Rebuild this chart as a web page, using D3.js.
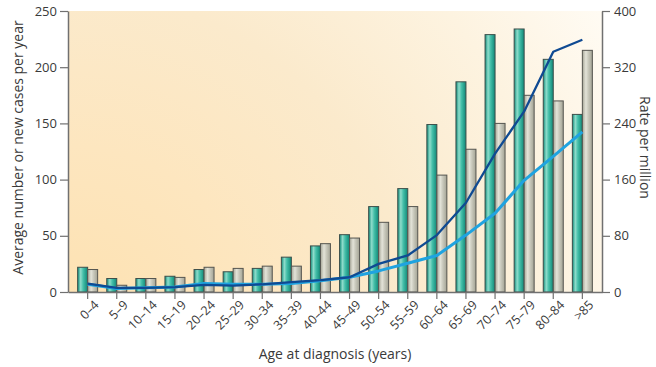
<!DOCTYPE html>
<html>
<head>
<meta charset="utf-8">
<script src="https://cdn.jsdelivr.net/npm/d3@7"></script>
<style>
  body { margin: 0; background: #fff; }
  svg text { font-family: "Open Sans", "Noto Sans", sans-serif; fill: #3a3a3a; }
  .axis path, .axis line { stroke: #707070; }
</style>
</head>
<body>
<div id="chart"></div>
<script>
// age groups along the x axis
const ages = ['0–4', '5–9', '10–14', '15–19', '20–24', '25–29', '30–34', '35–39', '40–44',
  '45–49', '50–54', '55–59', '60–64', '65–69', '70–74', '75–79', '80–84', '>85'];

// average number of new cases per year (left axis)
const casesTeal = [22, 12, 12, 14, 20, 18, 21, 31, 41, 51, 76, 92, 149, 187, 229, 234, 207, 158];
const casesGrey = [20, 6, 12, 13, 22, 21, 23, 23, 43, 48, 62, 76, 104, 127, 150, 175, 170, 215];

// rate per million (right axis)
const rateDark = [12, 6, 6, 7, 10, 9, 11, 14, 17, 21, 40, 52, 81, 127, 197, 257, 342, 359];
const rateLight = [11, 5, 6, 7, 12, 11, 11, 12, 16, 21, 30, 41, 52, 81, 112, 159, 193, 228];

const leftTicks = [0, 50, 100, 150, 200, 250];
const rightTicks = [0, 80, 160, 240, 320, 400];

const config = {
  width: 656, height: 367,
  margin: { top: 11, right: 54, bottom: 75, left: 68 }
};

const innerW = config.width - config.margin.left - config.margin.right;
const innerH = config.height - config.margin.top - config.margin.bottom;

const svg = d3.select('#chart').append('svg')
  .attr('width', config.width)
  .attr('height', config.height);

const defs = svg.append('defs');

// warm background wash, strongest in the lower left
const bg = defs.append('radialGradient')
  .attr('id', 'bg')
  .attr('gradientUnits', 'userSpaceOnUse')
  .attr('cx', 0).attr('cy', innerH + 40)
  .attr('r', 620);
[[0, '#fde1b0'], [0.3, '#fde6bf'], [0.55, '#fbeacc'], [0.8, '#fdf3e0'], [1, '#fffbf3']].forEach(s =>
  bg.append('stop').attr('offset', s[0]).attr('stop-color', s[1]));

// cylinder-like shading for the bars
const tealGrad = defs.append('linearGradient').attr('id', 'teal');
[[0, '#0f8c7a'], [0.3, '#8fdccb'], [0.55, '#45bfa9'], [1, '#0f8877']].forEach(s =>
  tealGrad.append('stop').attr('offset', s[0]).attr('stop-color', s[1]));
const greyGrad = defs.append('linearGradient').attr('id', 'grey');
[[0, '#a5a596'], [0.35, '#e3e3d8'], [0.6, '#c8c8bb'], [1, '#a3a394']].forEach(s =>
  greyGrad.append('stop').attr('offset', s[0]).attr('stop-color', s[1]));

const chart = svg.append('g')
  .attr('transform', `translate(${config.margin.left},${config.margin.top})`);

chart.append('rect')
  .attr('width', innerW)
  .attr('height', innerH)
  .attr('fill', 'url(#bg)');

// scales
const xScale = d3.scaleBand()
  .domain(ages)
  .range([0, innerW])
  .paddingInner(0)
  .paddingOuter(0.175);

const yLeft = d3.scaleLinear().domain([0, 250]).range([innerH, 0]);
const yRight = d3.scaleLinear().domain([0, 400]).range([innerH, 0]);

const barW = 10;
const cx = d => xScale(d) + xScale.bandwidth() / 2;

// bars: teal on the left of the tick, grey on the right
const series = [
  { values: casesTeal, fill: 'url(#teal)', offset: -barW, stroke: '#3d4f4b' },
  { values: casesGrey, fill: 'url(#grey)', offset: 0, stroke: '#555550' }
];

series.forEach(s => {
  chart.append('g').selectAll('rect')
    .data(ages)
    .join('rect')
    .attr('x', d => cx(d) + s.offset)
    .attr('y', (d, i) => yLeft(s.values[i]))
    .attr('width', barW)
    .attr('height', (d, i) => innerH - yLeft(s.values[i]))
    .attr('fill', s.fill)
    .attr('stroke', s.stroke)
    .attr('stroke-width', 1);
});

// rate lines
const line = d3.line()
  .x(d => cx(d.age))
  .y(d => yRight(d.v));

chart.append('path')
  .datum(ages.map((a, i) => ({ age: a, v: rateLight[i] })))
  .attr('d', line)
  .attr('fill', 'none')
  .attr('stroke', '#1fa3e0')
  .attr('stroke-width', 3)
  .attr('stroke-linejoin', 'round');

chart.append('path')
  .datum(ages.map((a, i) => ({ age: a, v: rateDark[i] })))
  .attr('d', line)
  .attr('fill', 'none')
  .attr('stroke', '#0f4a92')
  .attr('stroke-width', 2.3)
  .attr('stroke-linejoin', 'round');

// axes
const leftAxis = d3.axisLeft(yLeft).tickValues(leftTicks).tickSize(8).tickPadding(3).tickSizeOuter(0);
const rightAxis = d3.axisRight(yRight).tickValues(rightTicks).tickSize(8).tickPadding(4).tickSizeOuter(0);
const bottomAxis = d3.axisBottom(xScale).tickSize(7).tickSizeOuter(0).tickPadding(5);

const gl = chart.append('g').attr('class', 'axis').call(leftAxis);
const gr = chart.append('g').attr('class', 'axis')
  .attr('transform', `translate(${innerW},0)`).call(rightAxis);
const gb = chart.append('g').attr('class', 'axis')
  .attr('transform', `translate(0,${innerH})`).call(bottomAxis);

[gl, gr, gb].forEach(g => {
  g.select('.domain').attr('stroke', '#707070').attr('stroke-width', 1.5);
  g.selectAll('.tick line').attr('stroke', '#707070').attr('stroke-width', 1.2);
  g.selectAll('text').attr('font-size', 13).attr('fill', '#3a3a3a')
    .attr('font-family', '"Open Sans", "Noto Sans", sans-serif');
});

gb.selectAll('text')
  .attr('font-size', 12.5)
  .style('text-anchor', 'end')
  .attr('dx', '-0.1em')
  .attr('dy', '0.5em')
  .attr('transform', 'rotate(-45)');

// axis titles
chart.append('text')
  .attr('transform', `translate(-45,${innerH / 2 - 4}) rotate(-90)`)
  .attr('text-anchor', 'middle')
  .attr('font-size', 14)
  .text('Average number or new cases per year');

chart.append('text')
  .attr('transform', `translate(${innerW + 38},${innerH / 2 - 4}) rotate(90)`)
  .attr('text-anchor', 'middle')
  .attr('font-size', 14)
  .text('Rate per million');

chart.append('text')
  .attr('x', innerW / 2)
  .attr('y', innerH + 67)
  .attr('text-anchor', 'middle')
  .attr('font-size', 14)
  .text('Age at diagnosis (years)');
</script>
</body>
</html>
